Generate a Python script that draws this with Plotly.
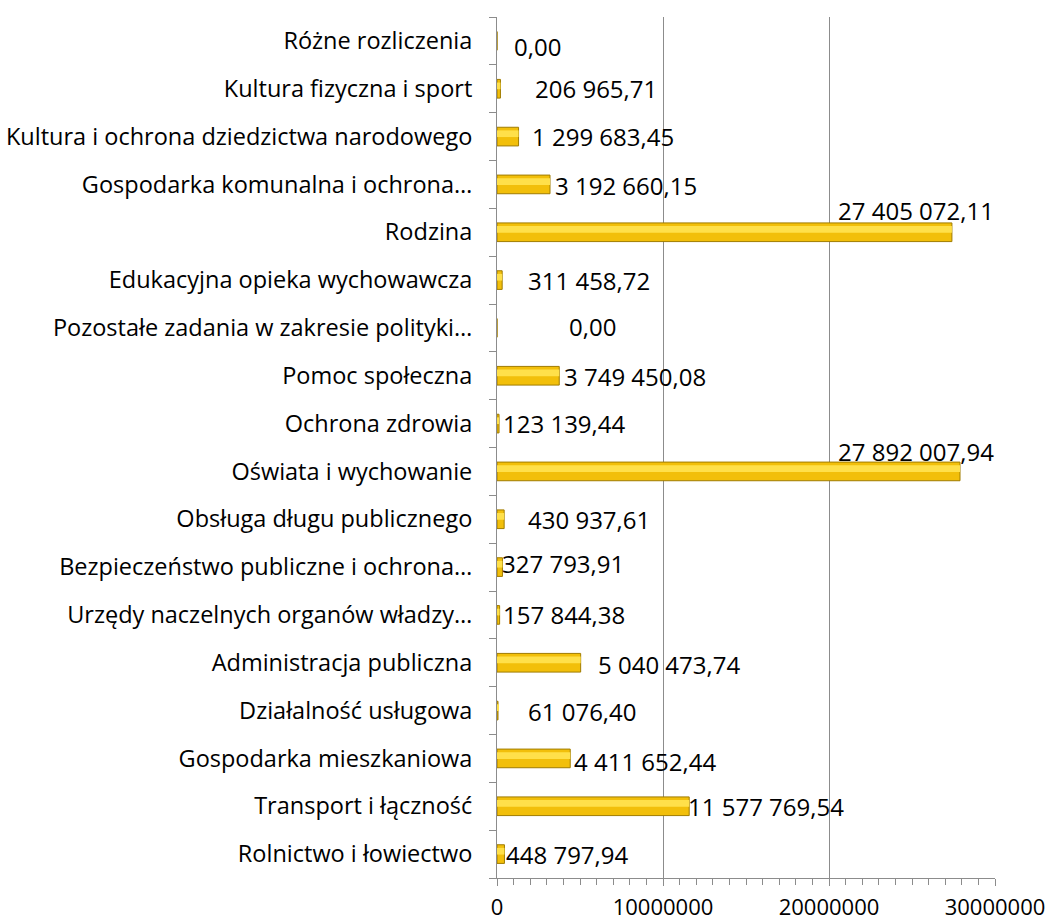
import plotly.graph_objects as go

categories = [
    "Rolnictwo i łowiectwo",
    "Transport i łączność",
    "Gospodarka mieszkaniowa",
    "Działalność usługowa",
    "Administracja publiczna",
    "Urzędy naczelnych organów władzy…",
    "Bezpieczeństwo publiczne i ochrona…",
    "Obsługa długu publicznego",
    "Oświata i wychowanie",
    "Ochrona zdrowia",
    "Pomoc społeczna",
    "Pozostałe zadania w zakresie polityki…",
    "Edukacyjna opieka wychowawcza",
    "Rodzina",
    "Gospodarka komunalna i ochrona…",
    "Kultura i ochrona dziedzictwa narodowego",
    "Kultura fizyczna i sport",
    "Różne rozliczenia",
]
values = [
    448797.94, 11577769.54, 4411652.44, 61076.40, 5040473.74, 157844.38,
    327793.91, 430937.61, 27892007.94, 123139.44, 3749450.08, 0.00,
    311458.72, 27405072.11, 3192660.15, 1299683.45, 206965.71, 0.00,
]
tick_values = [0, 10000000, 20000000, 30000000]
tick_labels = ["0", "10000000", "20000000", "30000000"]

# label placement offsets (pixels): (xanchor, xshift, yshift)
label_offsets = [
    ("left", 0, 0), ("left", -3, 0), ("left", 2, -3), ("left", 28, -1),
    ("left", 15, -2), ("left", 1, 0), ("left", -2, 4), ("left", 22, 0),
    ("right", 36, 20), ("left", 2, 0), ("left", 3, -1), ("left", 70, 1),
    ("left", 24, 0), ("right", 44, 22), ("left", 3, -1), ("left", 11, 0),
    ("left", 33, 0), ("left", 15, -6),
]


def fmt_pl(v):
    s = f"{v:,.2f}"
    return s.replace(",", " ").replace(".", ",")


FONT = "'Open Sans', 'Noto Sans', sans-serif"
GRID = "#8C8C8C"

fig = go.Figure()
fig.add_trace(go.Bar(
    x=values, y=categories, orientation="h",
    width=0.39,
    marker=dict(color="#F2BF0A", line=dict(color="#A07C00", width=1)),
    hoverinfo="x+y",
))
# highlight strip for a bevel-like look
fig.add_trace(go.Bar(
    x=values, y=categories, orientation="h",
    width=0.14, offset=-0.01,
    marker=dict(color="#FFE04A", line=dict(width=0)),
    hoverinfo="skip",
))

annotations = []
for cat, v, (anc, dx, dy) in zip(categories, values, label_offsets):
    annotations.append(dict(
        x=v, y=cat, xref="x", yref="y", text=fmt_pl(v), showarrow=False,
        xanchor=anc, yanchor="middle", xshift=dx, yshift=dy,
        font=dict(family=FONT, size=24, color="#000000"),
    ))

fig.update_layout(
    width=1050, height=923,
    margin=dict(l=497, r=55, t=17, b=45, autoexpand=False),
    paper_bgcolor="white", plot_bgcolor="white",
    showlegend=False, barmode="overlay",
    font=dict(family=FONT, size=21, color="#000000"),
    annotations=annotations,
    xaxis=dict(
        range=[0, 30000000], tickvals=tick_values, ticktext=tick_labels,
        showgrid=True, gridcolor=GRID, gridwidth=1,
        showline=True, linecolor=GRID, linewidth=1,
        ticks="outside", ticklen=7, tickcolor=GRID,
        minor=dict(dtick=1000000, ticks="outside", ticklen=6, tickcolor=GRID, showgrid=False),
        ticklabelstandoff=3, zeroline=False, automargin=False,
        tickfont=dict(family=FONT, size=22, color="#000000"),
    ),
    yaxis=dict(
        type="category", categoryorder="array", categoryarray=categories,
        showline=True, linecolor=GRID, linewidth=1,
        ticks="outside", ticklen=7, tickcolor=GRID, tickson="boundaries",
        ticklabelstandoff=19, automargin=False,
        tickfont=dict(family=FONT, size=23.5, color="#000000"),
        showgrid=False,
    ),
)

fig.write_html(
    "out.html",
    config={"displayModeBar": False},
    post_script="document.body.style.margin='0';document.body.style.overflow='hidden';",
)
